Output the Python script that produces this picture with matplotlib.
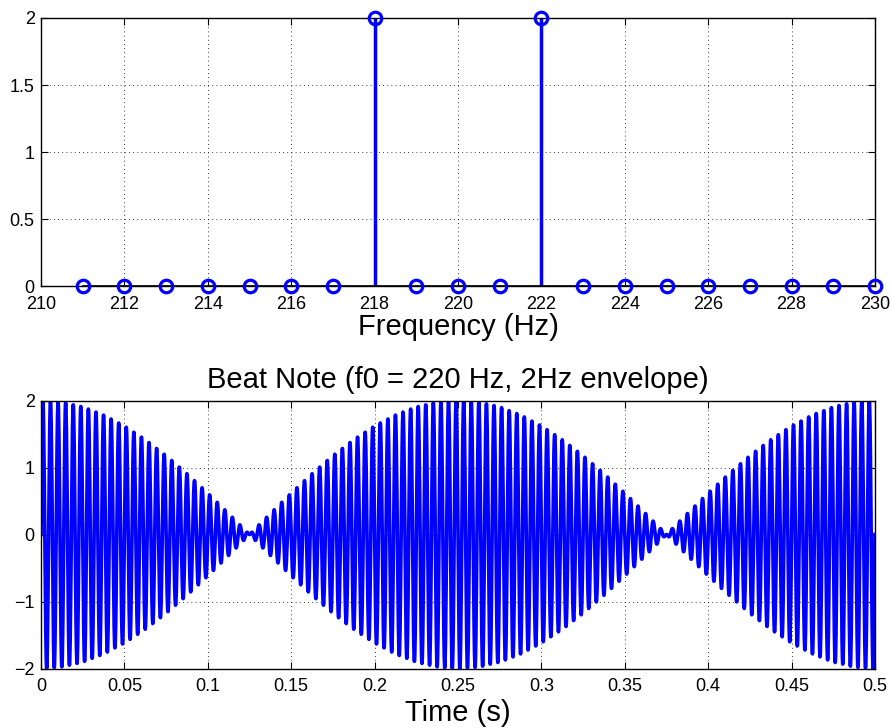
import numpy as np
import matplotlib
matplotlib.use("Agg")
import matplotlib.pyplot as plt

plt.rcParams['font.family'] = ['Liberation Sans', 'DejaVu Sans']

# Spectrum data (stem plot)
freqs = np.arange(211, 231)
spec = np.array([0, 0, 0, 0, 0, 0, 0, 2, 0, 0, 0, 2, 0, 0, 0, 0, 0, 0, 0, 0], dtype=float)

# Time signal built from the two spectral components
fs = 8000
t = np.arange(0, 0.5 + 1 / fs / 2, 1 / fs)
signal = np.zeros_like(t)
for f, a in zip(freqs, spec):
    if a > 0:
        signal += (a / 2) * np.sin(2 * np.pi * f * t)

freq_ticks = np.arange(210, 231, 2)
freq_yticks = [0, 0.5, 1, 1.5, 2]
time_ticks = np.arange(0, 0.501, 0.05)
time_ticklabels = ['0', '0.05', '0.1', '0.15', '0.2', '0.25', '0.3', '0.35', '0.4', '0.45', '0.5']
sig_yticks = [-2, -1, 0, 1, 2]

W, H = 892, 728
fig = plt.figure(figsize=(W / 100, H / 100), dpi=100)

blue = '#0000ff'

def style(ax):
    ax.tick_params(direction='in', top=True, right=True, labelsize=13, length=5, width=0.8)
    ax.tick_params(axis='x', pad=6.5)
    ax.tick_params(axis='y', pad=4.5)
    ax.grid(True, linestyle=(0, (1, 4)), color='black', linewidth=0.6)
    for s in ax.spines.values():
        s.set_linewidth(1.0)

# Top axes
ax1 = fig.add_axes([41 / W, 1 - 286.5 / H, (875 - 41) / W, (286.5 - 18) / H])
ml, sl, bl = ax1.stem(freqs, spec, basefmt='k-')
plt.setp(sl, color=blue, linewidth=2.5)
plt.setp(ml, markerfacecolor='none', markeredgecolor=blue, markersize=9, markeredgewidth=2.3, clip_on=False, zorder=5)
plt.setp(bl, linewidth=1.2, color='black')
ax1.set_xlim(210, 230)
ax1.set_ylim(0, 2)
ax1.set_xticks(freq_ticks)
ax1.set_yticks(freq_yticks)
ax1.set_yticklabels(['0', '0.5', '1', '1.5', '2'])
style(ax1)
ax1.set_xlabel('Frequency (Hz)', fontsize=21, labelpad=0)

# Bottom axes
ax2 = fig.add_axes([41 / W, 1 - 668.5 / H, (875 - 41) / W, (668.5 - 400.5) / H])
ax2.plot(t, signal, color=blue, linewidth=2.6)
ax2.set_xlim(0, 0.5)
ax2.set_ylim(-2, 2)
ax2.set_xticks(time_ticks)
ax2.set_xticklabels(time_ticklabels)
ax2.set_yticks(sig_yticks)
style(ax2)
ax2.set_xlabel('Time (s)', fontsize=21, labelpad=3)
ax2.set_title('Beat Note (f0 = 220 Hz, 2Hz envelope)', fontsize=21, pad=9)

fig.savefig('out.png', dpi=100)
